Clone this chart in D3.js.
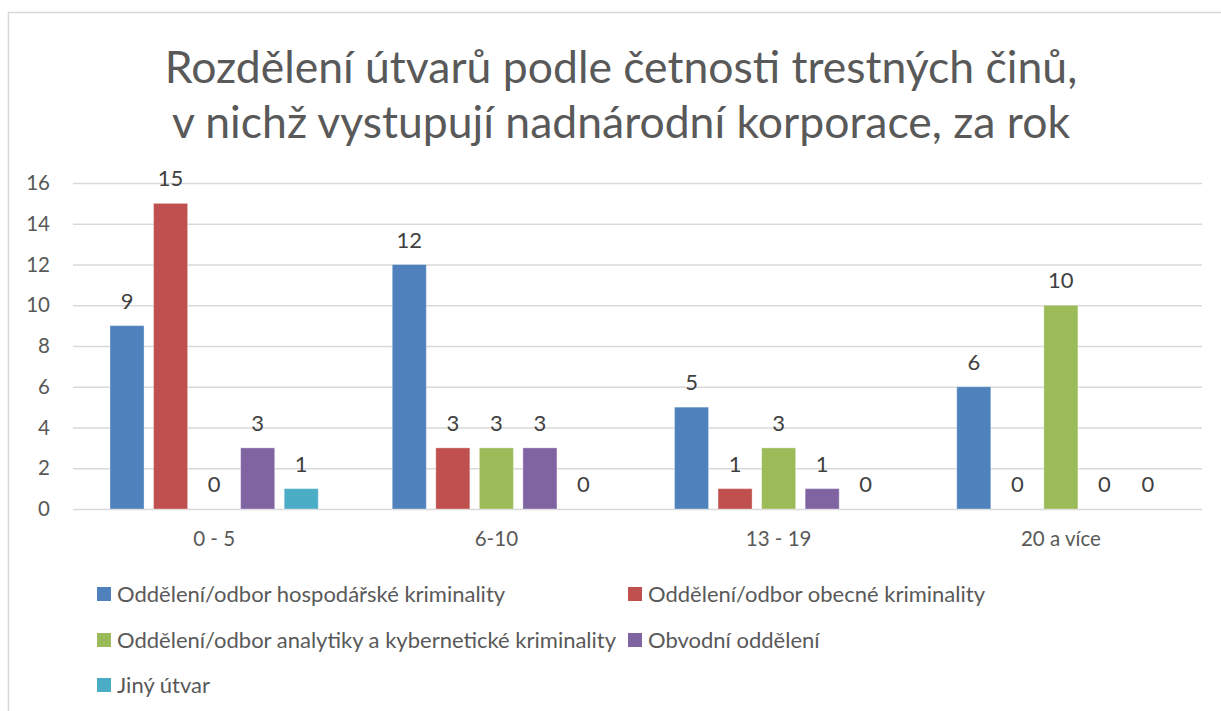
<!DOCTYPE html>
<html>
<head>
<meta charset="utf-8">
<script src="https://cdn.jsdelivr.net/npm/d3@7"></script>
<style>
  body { margin: 0; background: #fff; }
  svg { display: block; font-family: Lato, "Open Sans", sans-serif; }
</style>
</head>
<body>
<div class="chart"></div>
<script>
// Data
const categories = ['0 - 5', '6-10', '13 - 19', '20 a více'];
const seriesNames = [
    'Oddělení/odbor hospodářské kriminality',
    'Oddělení/odbor obecné kriminality',
    'Oddělení/odbor analytiky a kybernetické kriminality',
    'Obvodní oddělení',
    'Jiný útvar'
];
const hospodarska = [9, 12, 5, 6];
const obecna = [15, 3, 1, 0];
const analytika = [0, 3, 3, 10];
const obvodni = [3, 3, 1, 0];
const jiny = [1, 0, 0, 0];
const yTicks = [0, 2, 4, 6, 8, 10, 12, 14, 16];
const titleLines = [
    'Rozdělení útvarů podle četnosti trestných činů,',
    'v nichž vystupují nadnárodní korporace, za rok'
];

const colors = ['#4F81BD', '#C0504D', '#9BBB59', '#8064A2', '#4BACC6'];
const seriesValues = [hospodarska, obecna, analytika, obvodni, jiny];

// Sizes
const width = 1221;
const height = 711;
const plot = {left: 73, right: 1202, top: 183, bottom: 509};
const textColor = '#595959';

const svg = d3.select('.chart').append('svg')
    .attr('width', width)
    .attr('height', height);

// Outer chart border
svg.append('rect')
    .attr('x', 8.5)
    .attr('y', 12.5)
    .attr('width', width)
    .attr('height', height)
    .attr('fill', 'none')
    .attr('stroke', '#d9d9d9')
    .attr('stroke-width', 1.5);

// Title
svg.append('g')
    .selectAll('text')
    .data(titleLines)
    .join('text')
        .attr('x', 621)
        .attr('y', (_, i) => 83 + i * 55)
        .attr('text-anchor', 'middle')
        .attr('fill', textColor)
        .style('font-size', '44.5px')
        .text(d => d);

// Scales
const xScale = d3.scaleBand()
    .domain(categories)
    .range([plot.left, plot.right]);
const innerScale = d3.scaleBand()
    .domain(d3.range(seriesNames.length))
    .range([37, xScale.bandwidth() - 37])
    .paddingInner(0.218);
const yScale = d3.scaleLinear()
    .domain([0, 16])
    .range([plot.bottom, plot.top]);

// Y axis with gridlines
const yAxis = d3.axisLeft(yScale).tickValues(yTicks).tickSize(0).tickPadding(0);
svg.append('g')
    .attr('transform', `translate(${plot.left}, 0)`)
    .call(yAxis)
    .call(g => g.select('.domain').remove())
    .call(g => g.selectAll('.tick line')
        .attr('x2', plot.right - plot.left)
        .attr('stroke', '#d9d9d9')
        .attr('stroke-width', 1.5))
    .call(g => g.selectAll('.tick text')
        .attr('x', -23)
        .attr('fill', textColor)
        .style('font-size', '20.5px')
        .style('font-family', 'Lato, sans-serif'));

// X axis labels
const xAxis = d3.axisBottom(xScale).tickSize(0).tickPadding(0);
svg.append('g')
    .attr('transform', `translate(0, ${plot.bottom})`)
    .call(xAxis)
    .call(g => g.select('.domain').remove())
    .call(g => g.selectAll('.tick text')
        .attr('y', 22)
        .attr('dy', '0.71em')
        .attr('fill', textColor)
        .style('font-size', '20.5px')
        .style('font-family', 'Lato, sans-serif'));

// Flatten values for drawing
const cells = [];
categories.forEach((cat, ci) => {
    seriesValues.forEach((vals, si) => {
        cells.push({cat, si, value: vals[ci]});
    });
});

// Bars
const groups = svg.append('g');
groups.selectAll('rect')
    .data(cells.filter(d => d.value > 0))
    .join('rect')
        .attr('x', d => xScale(d.cat) + innerScale(d.si))
        .attr('y', d => yScale(d.value))
        .attr('width', innerScale.bandwidth())
        .attr('height', d => yScale(0) - yScale(d.value))
        .attr('fill', d => colors[d.si])
        .attr('stroke', 'rgba(255,255,255,0.35)')
        .attr('stroke-width', 1);

// Data labels
groups.selectAll('text')
    .data(cells)
    .join('text')
        .attr('x', d => xScale(d.cat) + innerScale(d.si) + innerScale.bandwidth() / 2)
        .attr('y', d => yScale(d.value) - 17)
        .attr('text-anchor', 'middle')
        .attr('fill', '#404040')
        .style('font-size', '22px')
        .text(d => d.value);

// Legend
const legendPos = [
    [97, 594], [628, 594],
    [97, 640], [628, 640],
    [97, 685]
];
const legend = svg.append('g');
legend.selectAll('rect')
    .data(seriesNames)
    .join('rect')
        .attr('x', (_, i) => legendPos[i][0])
        .attr('y', (_, i) => legendPos[i][1] - 7)
        .attr('width', 14)
        .attr('height', 14)
        .attr('fill', (_, i) => colors[i]);
legend.selectAll('text')
    .data(seriesNames)
    .join('text')
        .attr('x', (_, i) => legendPos[i][0] + 20)
        .attr('y', (_, i) => legendPos[i][1])
        .attr('dy', '0.35em')
        .attr('fill', textColor)
        .style('font-size', '22px')
        .text(d => d);
</script>
</body>
</html>
